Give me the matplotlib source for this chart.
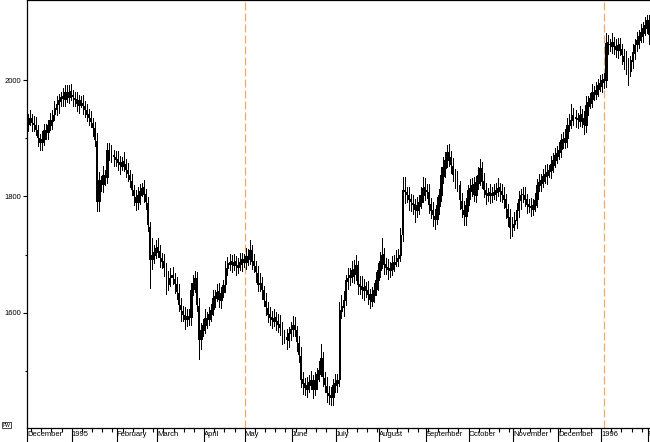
import matplotlib
matplotlib.use("Agg")
import matplotlib.pyplot as plt
import numpy as np
import pandas as pd

# daily bars, first trading day 1 Dec 1994
start_date = "1994-12-01"

opens = [
    1925, 1932, 1934, 1927, 1922, 1914, 1901, 1893, 1899, 1913,
    1911, 1923, 1930, 1941, 1951, 1959, 1964, 1972, 1967, 1980,
    1971, 1981, 1975, 1969, 1967, 1957, 1966, 1961, 1956, 1949,
    1941, 1934, 1927, 1917, 1895, 1793, 1826, 1821, 1836, 1834,
    1879, 1876, 1871, 1867, 1864, 1859, 1853, 1861, 1856, 1846,
    1837, 1827, 1812, 1799, 1790, 1802, 1809, 1816, 1804, 1788,
    1748, 1693, 1699, 1704, 1713, 1707, 1695, 1689, 1676, 1650,
    1661, 1666, 1659, 1649, 1635, 1613, 1604, 1596, 1589, 1594,
    1593, 1641, 1651, 1658, 1612, 1556, 1571, 1580, 1591, 1589,
    1599, 1606, 1625, 1631, 1637, 1623, 1636, 1649, 1678, 1684,
    1689, 1682, 1689, 1679, 1684, 1687, 1693, 1687, 1698, 1693,
    1707, 1689, 1681, 1669, 1649, 1651, 1639, 1621, 1609, 1598,
    1593, 1587, 1593, 1586, 1581, 1573, 1563, 1559, 1553, 1565,
    1573, 1580, 1570, 1549, 1526, 1486, 1479, 1470, 1477, 1481,
    1484, 1469, 1486, 1496, 1503, 1522, 1489, 1475, 1463, 1459,
    1455, 1477, 1479, 1486, 1603, 1611, 1623, 1655, 1661, 1664,
    1675, 1667, 1682, 1649, 1646, 1639, 1646, 1639, 1632, 1621,
    1631, 1641, 1656, 1673, 1689, 1701, 1684, 1679, 1673, 1676,
    1684, 1689, 1695, 1699, 1735, 1812, 1807, 1802, 1795, 1789,
    1787, 1776, 1784, 1790, 1802, 1816, 1811, 1807, 1787, 1776,
    1767, 1761, 1784, 1802, 1836, 1849, 1862, 1877, 1867, 1853,
    1838, 1829, 1819, 1793, 1777, 1767, 1785, 1810, 1814, 1821,
    1802, 1824, 1836, 1848, 1826, 1812, 1802, 1807, 1802, 1805,
    1807, 1812, 1816, 1809, 1802, 1795, 1779, 1764, 1747, 1753,
    1759, 1776, 1794, 1804, 1802, 1795, 1787, 1783, 1779, 1785,
    1795, 1819, 1824, 1827, 1836, 1837, 1843, 1846, 1854, 1862,
    1870, 1876, 1881, 1898, 1894, 1901, 1922, 1931, 1941, 1936,
    1934, 1930, 1941, 1934, 1922, 1956, 1961, 1968, 1980, 1976,
    1984, 1990, 1996, 2001, 2000, 2065, 2061, 2059, 2066, 2059,
    2051, 2061, 2053, 2042, 2032, 2026, 2016, 2033, 2047, 2061,
    2068, 2076, 2081, 2090, 2094, 2102,
]
highs = [
    1942, 1949, 1942, 1938, 1936, 1923, 1907, 1913, 1924, 1925,
    1931, 1943, 1949, 1964, 1973, 1976, 1979, 1986, 1992, 1991,
    1991, 1993, 1983, 1980, 1980, 1975, 1973, 1974, 1964, 1959,
    1950, 1946, 1935, 1928, 1909, 1842, 1836, 1852, 1846, 1892,
    1892, 1889, 1880, 1878, 1878, 1869, 1868, 1876, 1865, 1857,
    1846, 1839, 1820, 1811, 1817, 1821, 1824, 1829, 1813, 1799,
    1756, 1729, 1717, 1726, 1729, 1717, 1703, 1702, 1686, 1672,
    1677, 1679, 1668, 1661, 1649, 1625, 1612, 1610, 1606, 1607,
    1651, 1666, 1672, 1670, 1626, 1583, 1589, 1607, 1602, 1611,
    1616, 1639, 1640, 1650, 1651, 1645, 1656, 1690, 1696, 1701,
    1699, 1701, 1697, 1695, 1703, 1703, 1701, 1712, 1709, 1725,
    1716, 1702, 1689, 1680, 1669, 1662, 1646, 1635, 1619, 1610,
    1603, 1607, 1601, 1598, 1596, 1584, 1571, 1573, 1576, 1585,
    1594, 1593, 1578, 1560, 1541, 1499, 1488, 1490, 1494, 1500,
    1494, 1499, 1505, 1518, 1546, 1533, 1498, 1490, 1474, 1473,
    1486, 1495, 1495, 1618, 1631, 1637, 1666, 1678, 1678, 1690,
    1691, 1699, 1690, 1663, 1663, 1659, 1654, 1655, 1642, 1644,
    1652, 1671, 1685, 1704, 1729, 1712, 1694, 1693, 1688, 1698,
    1699, 1708, 1710, 1746, 1833, 1833, 1816, 1816, 1805, 1802,
    1796, 1799, 1802, 1816, 1834, 1832, 1822, 1822, 1798, 1790,
    1778, 1799, 1813, 1850, 1867, 1877, 1889, 1890, 1878, 1866,
    1848, 1844, 1827, 1806, 1793, 1797, 1819, 1830, 1832, 1833,
    1836, 1851, 1865, 1860, 1841, 1823, 1814, 1821, 1816, 1821,
    1824, 1831, 1824, 1822, 1817, 1805, 1787, 1778, 1764, 1774,
    1788, 1809, 1813, 1816, 1817, 1805, 1795, 1798, 1796, 1806,
    1830, 1839, 1839, 1848, 1854, 1855, 1854, 1870, 1874, 1884,
    1886, 1894, 1907, 1911, 1916, 1935, 1942, 1958, 1952, 1948,
    1944, 1955, 1950, 1946, 1973, 1973, 1978, 1993, 1990, 1996,
    2001, 2009, 2010, 2012, 2080, 2077, 2070, 2081, 2074, 2071,
    2072, 2073, 2061, 2054, 2049, 2037, 2042, 2062, 2070, 2082,
    2086, 2096, 2099, 2108, 2112, 2111,
]
lows = [
    1912, 1923, 1913, 1912, 1905, 1886, 1880, 1880, 1889, 1899,
    1899, 1914, 1916, 1931, 1940, 1944, 1955, 1955, 1956, 1962,
    1960, 1965, 1955, 1955, 1947, 1943, 1953, 1942, 1937, 1930,
    1922, 1919, 1904, 1887, 1775, 1775, 1810, 1807, 1819, 1824,
    1862, 1860, 1852, 1852, 1846, 1838, 1845, 1843, 1833, 1827,
    1816, 1802, 1786, 1776, 1779, 1787, 1800, 1790, 1779, 1740,
    1643, 1675, 1685, 1694, 1696, 1679, 1678, 1663, 1633, 1639,
    1647, 1650, 1635, 1624, 1603, 1587, 1587, 1573, 1577, 1579,
    1580, 1631, 1636, 1604, 1521, 1539, 1561, 1566, 1575, 1579,
    1586, 1596, 1610, 1620, 1611, 1608, 1627, 1636, 1666, 1673,
    1670, 1674, 1666, 1669, 1673, 1672, 1679, 1675, 1683, 1684,
    1676, 1670, 1654, 1638, 1637, 1624, 1612, 1596, 1585, 1580,
    1574, 1578, 1570, 1568, 1562, 1546, 1548, 1539, 1542, 1554,
    1560, 1561, 1535, 1516, 1473, 1461, 1460, 1455, 1465, 1470,
    1454, 1460, 1470, 1484, 1491, 1475, 1465, 1447, 1443, 1442,
    1442, 1465, 1464, 1474, 1591, 1594, 1613, 1641, 1648, 1654,
    1652, 1657, 1633, 1632, 1625, 1623, 1627, 1616, 1608, 1612,
    1618, 1631, 1640, 1662, 1677, 1667, 1667, 1659, 1662, 1666,
    1672, 1680, 1680, 1689, 1723, 1789, 1790, 1777, 1775, 1770,
    1757, 1765, 1770, 1780, 1790, 1794, 1797, 1771, 1763, 1749,
    1744, 1752, 1770, 1792, 1823, 1833, 1851, 1853, 1841, 1826,
    1814, 1810, 1778, 1764, 1751, 1751, 1775, 1795, 1801, 1792,
    1790, 1813, 1820, 1814, 1799, 1787, 1792, 1788, 1791, 1795,
    1794, 1801, 1792, 1791, 1781, 1763, 1750, 1728, 1733, 1742,
    1746, 1765, 1778, 1791, 1783, 1771, 1773, 1766, 1768, 1775,
    1782, 1809, 1809, 1816, 1823, 1821, 1833, 1831, 1842, 1851,
    1857, 1865, 1867, 1884, 1883, 1885, 1912, 1917, 1923, 1920,
    1917, 1921, 1920, 1908, 1911, 1940, 1952, 1954, 1965, 1967,
    1972, 1981, 1980, 1986, 1988, 2045, 2049, 2046, 2045, 2040,
    2038, 2043, 2028, 2019, 2011, 1992, 2007, 2020, 2036, 2049,
    2055, 2065, 2066, 2078, 2081, 2061,
]
closes = [
    1931, 1935, 1926, 1923, 1915, 1900, 1892, 1898, 1914, 1910,
    1922, 1931, 1940, 1952, 1958, 1965, 1971, 1968, 1979, 1972,
    1980, 1974, 1970, 1966, 1958, 1965, 1962, 1955, 1948, 1940,
    1935, 1928, 1918, 1897, 1790, 1828, 1820, 1837, 1832, 1880,
    1875, 1870, 1868, 1863, 1858, 1854, 1860, 1857, 1845, 1838,
    1828, 1811, 1800, 1789, 1803, 1810, 1815, 1803, 1790, 1751,
    1691, 1700, 1705, 1712, 1708, 1694, 1688, 1677, 1648, 1660,
    1665, 1660, 1650, 1636, 1614, 1605, 1597, 1588, 1595, 1592,
    1640, 1652, 1660, 1614, 1554, 1570, 1579, 1592, 1588, 1598,
    1605, 1626, 1630, 1636, 1622, 1635, 1648, 1677, 1685, 1688,
    1683, 1688, 1680, 1683, 1688, 1692, 1688, 1697, 1694, 1708,
    1688, 1680, 1670, 1648, 1652, 1640, 1622, 1610, 1597, 1592,
    1588, 1592, 1585, 1580, 1574, 1562, 1558, 1554, 1566, 1572,
    1579, 1571, 1550, 1528, 1485, 1478, 1471, 1476, 1482, 1485,
    1468, 1485, 1495, 1502, 1523, 1490, 1476, 1462, 1458, 1454,
    1476, 1480, 1485, 1605, 1612, 1622, 1657, 1660, 1665, 1674,
    1668, 1683, 1648, 1645, 1640, 1645, 1638, 1631, 1622, 1632,
    1640, 1657, 1674, 1690, 1700, 1683, 1678, 1674, 1677, 1685,
    1688, 1694, 1700, 1734, 1811, 1808, 1803, 1794, 1790, 1786,
    1777, 1785, 1791, 1803, 1815, 1812, 1808, 1786, 1775, 1768,
    1760, 1785, 1803, 1837, 1850, 1863, 1876, 1868, 1854, 1837,
    1828, 1820, 1794, 1778, 1768, 1786, 1811, 1815, 1820, 1803,
    1825, 1837, 1849, 1825, 1811, 1803, 1806, 1803, 1806, 1808,
    1811, 1815, 1808, 1803, 1794, 1780, 1763, 1746, 1752, 1760,
    1777, 1795, 1803, 1803, 1794, 1786, 1782, 1780, 1786, 1794,
    1820, 1825, 1828, 1835, 1838, 1842, 1845, 1855, 1863, 1871,
    1875, 1880, 1897, 1895, 1900, 1923, 1932, 1940, 1935, 1933,
    1931, 1940, 1935, 1923, 1957, 1962, 1969, 1979, 1977, 1983,
    1991, 1995, 2000, 1997, 2064, 2062, 2060, 2065, 2058, 2052,
    2060, 2052, 2043, 2031, 2025, 2017, 2034, 2048, 2060, 2069,
    2075, 2082, 2089, 2095, 2103, 2077,
]

y_labeled = [1600, 1800, 2000]
y_minor = [1500, 1700, 1900]
marker_bars = [106.5, 283]  # dashed separators

o = np.array(opens, dtype=float)
h = np.array(highs, dtype=float)
l = np.array(lows, dtype=float)
c = np.array(closes, dtype=float)
x = np.arange(len(c))
dates = pd.bdate_range(start_date, periods=len(c))

fig = plt.figure(figsize=(6.5, 4.42), dpi=100)
ax = fig.add_axes([27 / 650, 14 / 442, 633 / 650, 428 / 442])

for xm in marker_bars:
    ax.axvline(xm, color="#f5a860", linestyle=(0, (6.4, 2.4)), linewidth=0.9, zorder=0)

# crisp, unsmoothed candles like the original screen chart
ax.vlines(x, l, h, color="black", linewidth=0.72, antialiased=False)
up = c >= o
ax.bar(x[up], (c - o)[up], bottom=o[up], width=0.9,
       facecolor="white", edgecolor="black", linewidth=0.6, antialiased=False)
ax.bar(x[~up], (o - c)[~up], bottom=c[~up], width=0.9,
       color="black", linewidth=0, antialiased=False)

ax.set_xlim(-0.5, 310.5)
ax.set_ylim(1402.5, 2137.4)

# month ticks: January shows the year
month_idx = [0] + [i for i in range(1, len(dates)) if dates[i].month != dates[i - 1].month]
month_lbl = [str(dates[i].year) if dates[i].month == 1 else dates[i].strftime("%B") for i in month_idx]
week_idx = [i for i in range(len(dates)) if dates[i].weekday() == 0]

ax.set_xticks([i - 0.5 for i in month_idx])
ax.set_xticklabels(month_lbl, fontsize=5.5, ha="left", family="Liberation Sans")
ax.set_xticks([i - 0.5 for i in week_idx], minor=True)
ax.tick_params(axis="x", which="major", direction="out", length=10, width=0.8, pad=-7.5)
ax.tick_params(axis="x", which="minor", direction="out", length=3, width=0.8)

ax.set_yticks(y_labeled)
ax.set_yticklabels([str(v) for v in y_labeled], fontsize=5.5, family="Liberation Sans")
ax.set_yticks(y_minor, minor=True)
ax.tick_params(axis="y", which="major", direction="out", length=3, width=0.8, pad=1)
ax.tick_params(axis="y", which="minor", direction="out", length=1.5, width=0.8)

for side in ["left", "bottom", "top"]:
    ax.spines[side].set_linewidth(0.9)
ax.spines["right"].set_visible(False)

fig.text(0.004, 0.035, "PW", fontsize=3.5, family="Liberation Sans",
         bbox=dict(boxstyle="square,pad=0.15", facecolor="white", edgecolor="black", linewidth=0.5))

fig.savefig("out.png", dpi=100, facecolor="white")
